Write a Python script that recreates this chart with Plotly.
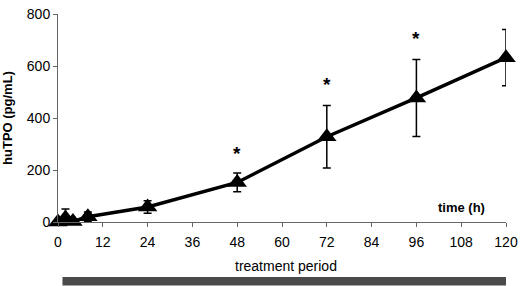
import plotly.graph_objects as go

time_h = [0, 2, 4, 8, 24, 48, 72, 96, 120]
hutpo = [0, 15, 2, 20, 58, 152, 328, 477, 632]
err_sd = [0, 35, 0, 18, 24, 36, 120, 148, 108]
star_times = [48, 72, 96, 120]
star_values = [262, 528, 705, 828]
x_ticks = [0, 12, 24, 36, 48, 60, 72, 84, 96, 108, 120]
y_ticks = [0, 200, 400, 600, 800]

FONT = "Liberation Sans, Arial, sans-serif"

fig = go.Figure()
fig.add_trace(go.Scatter(
    x=time_h, y=hutpo, mode="lines+markers",
    line=dict(color="black", width=3.5),
    marker=dict(symbol="triangle-up", size=17, color="black"),
    error_y=dict(type="data", array=err_sd, visible=True, color="black",
                 thickness=1.5, width=4),
    cliponaxis=False, showlegend=False,
))

annotations = [
    dict(x=t, y=v, xref="x", yref="y", text="<b>*</b>", showarrow=False,
         font=dict(size=19))
    for t, v in zip(star_times, star_values)
]
annotations += [
    dict(x=108, y=0, xref="x", yref="y", yshift=15, text="<b>time (h)</b>",
         showarrow=False, font=dict(size=13)),
    dict(x=61, y=-0.212, xref="x", yref="paper", text="treatment period",
         showarrow=False, font=dict(size=14), yanchor="middle"),
]

fig.update_layout(
    width=520, height=286,
    margin=dict(l=58, r=14, t=14, b=64, autoexpand=False),
    paper_bgcolor="white", plot_bgcolor="white",
    font=dict(family=FONT, size=14, color="black"),
    xaxis=dict(range=[0, 120], tickvals=x_ticks, ticks="outside", ticklen=4,
               tickcolor="#666", showline=True, linecolor="#666", linewidth=1,
               showgrid=False, zeroline=False, tickfont=dict(size=14),
               ticklabelstandoff=3, automargin=False),
    yaxis=dict(range=[0, 800], tickvals=y_ticks, ticks="outside", ticklen=4,
               tickcolor="#666", showline=True, linecolor="#666", linewidth=1,
               showgrid=False, zeroline=False, tickfont=dict(size=14),
               automargin=False,
               title=dict(text="<b>huTPO (pg/mL)</b>", font=dict(size=13), standoff=12)),
    annotations=annotations,
    shapes=[
        dict(type="rect", xref="x", yref="paper", x0=1.2, x1=120.3,
             y0=-0.265, y1=-0.305, fillcolor="#4a4a4a", line=dict(width=0)),
    ],
)
fig.write_html("out.html", config={"displayModeBar": False},
               post_script="document.body.style.margin='0';document.body.style.overflow='hidden';")
